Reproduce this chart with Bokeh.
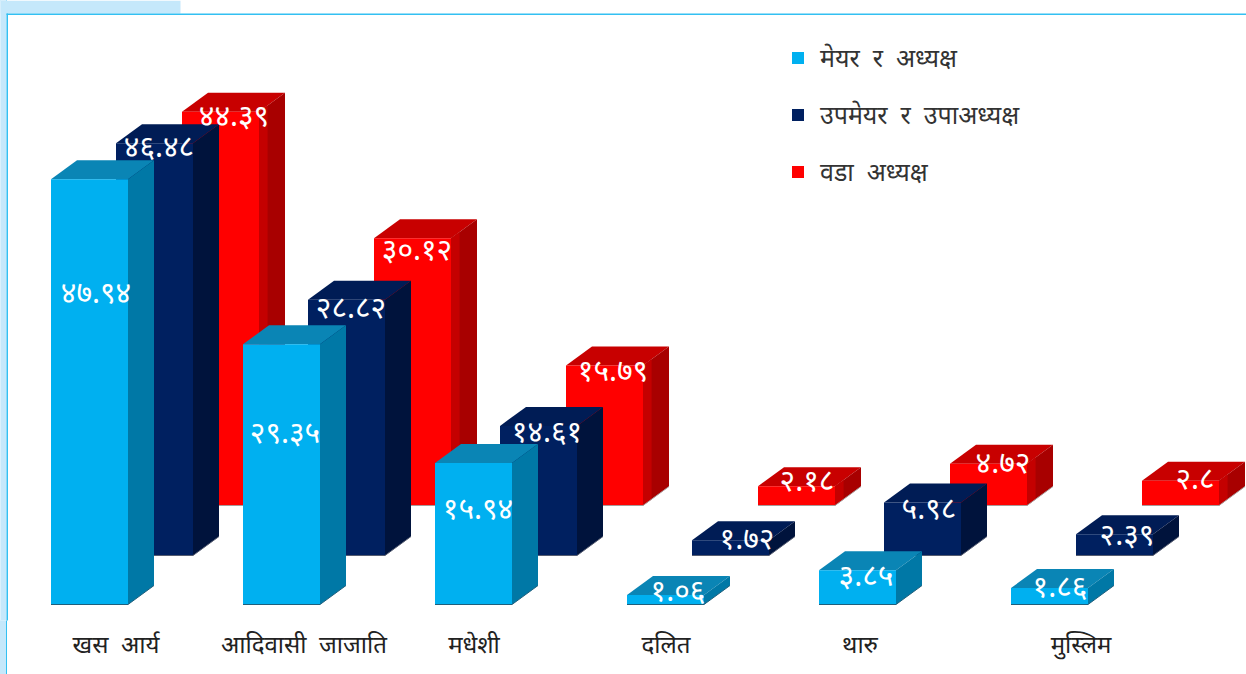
from bokeh.plotting import figure
from bokeh.embed import file_html
from bokeh.resources import INLINE
from bokeh.models import Range1d, FixedTicker, Legend, LegendItem, ColumnDataSource, BoxAnnotation
from bokeh.core.properties import value

categories = ["खस\u00a0 आर्य", "आदिवासी\u00a0 जाजाति", "मधेशी", "दलित", "थारु", "मुस्लिम"]
series_names = ["मेयर\u00a0 र\u00a0 अध्यक्ष", "उपमेयर\u00a0 र\u00a0 उपाअध्यक्ष", "वडा\u00a0 अध्यक्ष"]
mayor = [47.94, 29.35, 15.94, 1.06, 3.85, 1.86]
deputy = [46.48, 28.82, 14.61, 1.72, 5.98, 2.39]
ward = [44.39, 30.12, 15.79, 2.18, 4.72, 2.8]
mayor_labels = ["४७.९४", "२९.३५", "१५.९४", "१.०६", "३.८५", "१.८६"]
deputy_labels = ["४६.४८", "२८.८२", "१४.६१", "१.७२", "५.९८", "२.३९"]
ward_labels = ["४४.३९", "३०.१२", "१५.७९", "२.१८", "४.७२", "२.८"]

PX = 8.87            # pixels per percentage point
W, H = 1246, 674
AXIS_H = 54
BASE_PX = 604
FRAME_H = H - AXIS_H
GROUP_X0, GROUP_STEP, BAR_W = 50.5, 192, 77
DX, DY = 26, 19 / PX


def ypx(px):
    return (BASE_PX - px) / PX


p = figure(width=W, height=H, output_backend="svg", toolbar_location=None,
           x_range=Range1d(0, W), y_range=Range1d(ypx(FRAME_H), ypx(0)),
           y_axis_location=None, min_border=0, min_border_bottom=AXIS_H,
           min_border_left=0, min_border_right=0, min_border_top=0,
           outline_line_color=None, margin=0, border_fill_color=None)
p.styles = {"background": "linear-gradient(90deg, #c5e8fb 6px, #33c0f2 6px, #33c0f2 7.5px, #ffffff 7.5px)"}
p.grid.visible = False


def furniture(l, r, t, b, colour):
    # screen units of a box count upward from the bottom of the frame
    p.add_layout(BoxAnnotation(left=l, right=r, top=FRAME_H - t, bottom=FRAME_H - b,
                               left_units="screen", right_units="screen",
                               top_units="screen", bottom_units="screen", fill_color=colour, fill_alpha=1,
                               line_color=None, level="underlay"))


furniture(0, 6, 0, H, "#c5e8fb")
furniture(0, 180, 0, 13, "#c5e8fb")
furniture(6, 7.5, 13, H, "#33c0f2")
furniture(6, W, 13, 14.5, "#33c0f2")

series = [
    (ward, ward_labels, 131, 99, "#ff0000", "#c80000", "#a80000", ("#c40000", 0.33), "#a89a9a",
     [(52, 3), (43, 10), (47, 4), (49, -7), (53, -2), (53, -3)]),
    (deputy, deputy_labels, 65, 49, "#002060", "#001c55", "#00133c", None, "#555c70",
     [(43, 2), (43, 7), (47, 5), (55, -3), (45, 5), (51, -1)]),
    (mayor, mayor_labels, 0, 0, "#00b0f0", "#0a85b5", "#0078a6", None, "#1f5f7c",
     [(45, 112), (42, 87), (43, 44), (51, -6), (47, 4), (49, -3)]),
]

fronts = []
label_rows = {"x": [], "y": [], "text": [], "dx": [], "dy": []}
for vals, labs, ox, oy, front, top, side, band, edge, loffs in series:
    base = oy / PX
    xs = [GROUP_X0 + i * GROUP_STEP + ox for i in range(len(vals))]
    # top face
    p.patches(xs=[[x, x + BAR_W, x + BAR_W + DX, x + DX] for x in xs],
              ys=[[base + v, base + v, base + v + DY, base + v + DY] for v in vals],
              fill_color=top, line_color=None)
    # side face, with an optional lighter band next to the front
    p.patches(xs=[[x + BAR_W, x + BAR_W + DX, x + BAR_W + DX, x + BAR_W] for x in xs],
              ys=[[base, base + DY, base + v + DY, base + v] for v in vals],
              fill_color=side, line_color=None)
    if band:
        f = band[1]
        p.patches(xs=[[x + BAR_W, x + BAR_W + DX * f, x + BAR_W + DX * f, x + BAR_W] for x in xs],
                  ys=[[base, base + DY * f, base + v + DY * f, base + v] for v in vals],
                  fill_color=band[0], line_color=None)
    # front face
    r = p.quad(left=xs, right=[x + BAR_W for x in xs], bottom=[base] * len(xs),
               top=[base + v for v in vals], fill_color=front, line_color=None)
    p.multi_line(xs=[[x, x + BAR_W, x + BAR_W + DX] for x in xs],
                 ys=[[base, base, base + DY] for _ in xs], line_color=edge, line_width=1)
    fronts.append(r)
    for i, x in enumerate(xs):
        label_rows["x"].append(x)
        label_rows["y"].append(base + vals[i])
        label_rows["text"].append(labs[i])
        label_rows["dx"].append(loffs[i][0])
        label_rows["dy"].append(loffs[i][1])

p.text(x="x", y="y", text="text", x_offset="dx", y_offset="dy", source=ColumnDataSource(label_rows),
       text_color="#ffffff", text_font=value("Noto Sans"), text_font_size="30px",
       text_align="center", text_baseline="middle")

# category axis
ax = p.xaxis[0]
label_shift = [65, 61, 39, 39, 41, 70]
ticks = [GROUP_X0 + i * GROUP_STEP + s for i, s in enumerate(label_shift)]
ax.ticker = FixedTicker(ticks=ticks)
ax.major_label_overrides = {t: c for t, c in zip(ticks, categories)}
ax.axis_line_color = None
ax.major_tick_line_color = None
ax.minor_tick_line_color = None
ax.major_label_text_font = "Noto Sans"
ax.major_label_text_font_size = "24px"
ax.major_label_text_color = "#222222"
ax.major_label_standoff = 0

legend = Legend(items=[LegendItem(label=n, renderers=[r]) for n, r in zip(series_names, reversed(fronts))],
                location=(790, H - AXIS_H - 188), orientation="vertical",
                glyph_width=15, glyph_height=15, label_standoff=15, spacing=23, padding=0, margin=0,
                background_fill_alpha=0, border_line_color=None,
                label_text_font="Noto Sans", label_text_font_size="25px", label_text_color="#333333")
p.add_layout(legend, "center")

open("out.html", "w").write(file_html(p, INLINE))
